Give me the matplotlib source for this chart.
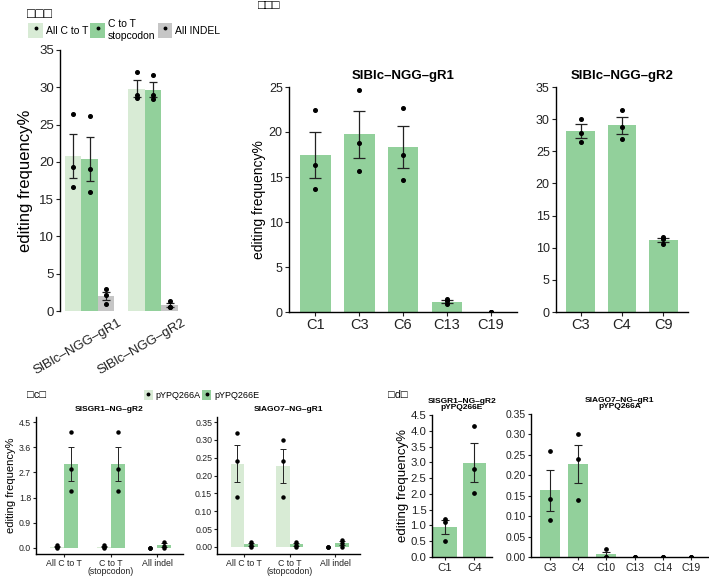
import numpy as np
import matplotlib
matplotlib.use("Agg")
import matplotlib.pyplot as plt
import matplotlib.transforms as mtransforms
from matplotlib.patches import Patch
from matplotlib.lines import Line2D
from matplotlib.legend_handler import HandlerTuple

plt.rcParams['font.family'] = ['Liberation Sans', 'DejaVu Sans']

LIGHT = '#d8ebd5'
GREEN = '#92d09b'
GREY = '#c6c6c6'

# ---- panel a: summary per guide (three replicates each)
a_groups = ['SlBlc–NGG–gR1', 'SlBlc–NGG–gR2']
a_series = ['All C to T', 'C to T\nstopcodon', 'All INDEL']
a_all_ct = [[26.4, 19.3, 16.6], [32.1, 28.9, 28.5]]
a_stop = [[26.1, 19.0, 16.0], [31.7, 28.9, 28.4]]
a_indel = [[2.9, 2.2, 0.9], [1.3, 0.6, 0.5]]

# ---- panel b: per-position editing
b1_pos = ['C1', 'C3', 'C6', 'C13', 'C19']
b1_pts = [[22.4, 16.3, 13.7], [24.7, 18.8, 15.7], [22.7, 17.5, 14.7],
          [1.4, 1.2, 0.9], [0.0, 0.0, 0.0]]
b2_pos = ['C3', 'C4', 'C9']
b2_pts = [[30.1, 27.9, 26.4], [31.5, 28.8, 26.9], [11.6, 11.4, 10.6]]

# ---- panel c: pYPQ266A vs pYPQ266E
c_cats = ['All C to T', 'C to T\n(stopcodon)', 'All indel']
c1_A = [[0.09, 0.03, 0.0], [0.09, 0.03, 0.0], [0.0, 0.0, 0.0]]
c1_E = [[4.14, 2.82, 2.04], [4.14, 2.82, 2.04], [0.22, 0.06, 0.0]]
c2_A = [[0.32, 0.24, 0.14], [0.30, 0.24, 0.14], [0.0, 0.0, 0.0]]
c2_E = [[0.015, 0.007, 0.0], [0.015, 0.007, 0.0], [0.019, 0.011, 0.0]]

# ---- panel d
d1_pos = ['C1', 'C4']
d1_pts = [[1.22, 1.10, 0.50], [4.15, 2.78, 2.04]]
d2_pos = ['C3', 'C4', 'C10', 'C13', 'C14', 'C19']
d2_pts = [[0.26, 0.141, 0.09], [0.30, 0.24, 0.14], [0.02, 0.0, 0.0],
          [0.0, 0.0, 0.0], [0.0, 0.0, 0.0], [0.0, 0.0, 0.0]]

W, H = 709, 578
fig = plt.figure(figsize=(W / 100, H / 100), dpi=100)


def ax_at(l, r, t, b):
    return fig.add_axes([l / W, 1 - b / H, (r - l) / W, (b - t) / H])


def mean_se(pts):
    pts = np.asarray(pts, dtype=float)
    m = pts.mean(axis=1)
    se = pts.std(axis=1, ddof=1) / np.sqrt(pts.shape[1])
    return m, se


def draw(ax, x, pts, color, width, cap=3.5, ms=2.6, lw=0.9):
    m, se = mean_se(pts)
    ax.bar(x, m, width=width, color=color, zorder=1)
    for xi, p, mi, si in zip(x, pts, m, se):
        ax.plot([xi] * len(p), p, 'o', color='black', ms=ms, zorder=3)
        if si > 0:
            ax.errorbar(xi, mi, yerr=si, color='#222222', capsize=cap,
                        lw=lw, capthick=lw, zorder=2)


def style(ax, fs, bottom=True):
    for s in ['top', 'right']:
        ax.spines[s].set_visible(False)
    ax.spines['bottom'].set_visible(bottom)
    ax.spines['left'].set_linewidth(1.0)
    ax.spines['bottom'].set_linewidth(1.0)
    ax.tick_params(labelsize=fs, length=3, width=0.8, pad=1.5, colors='#222222')


dot = Line2D([], [], marker='o', color='black', ms=1.8, ls='')
overlay = {tuple: HandlerTuple(ndivide=1)}

# ---------------- panel a
ax = ax_at(60, 185, 50, 311)
xg = np.arange(len(a_groups))
bw = 0.26
draw(ax, xg - bw, a_all_ct, LIGHT, bw, cap=3)
draw(ax, xg, a_stop, GREEN, bw, cap=3)
draw(ax, xg + bw, a_indel, GREY, bw, cap=3)
ax.set_xlim(-0.465, 1.5)
ax.set_ylim(0, 35)
ax.set_yticks([0, 5, 10, 15, 20, 25, 30, 35])
ax.set_xticks(xg)
ax.set_xticklabels(a_groups, rotation=30, ha='center', rotation_mode='anchor',
                   va='top')
style(ax, 9.5, bottom=False)
ax.tick_params(axis='x', length=0, pad=22)
shift = mtransforms.ScaledTranslation(-15 / 100, 0, fig.dpi_scale_trans)
for lab in ax.get_xticklabels():
    lab.set_transform(lab.get_transform() + shift)
ax.set_ylabel('editing frequency%', fontsize=12, labelpad=4)

handles = [(Patch(facecolor=c), dot) for c in (LIGHT, GREEN, GREY)]
fig.legend(handles, a_series, handler_map=overlay,
           loc='center left', bbox_to_anchor=(23 / W, 1 - 30 / H), ncol=3,
           frameon=False, fontsize=7.5, handlelength=1.4, handleheight=1.9,
           handletextpad=0.3, columnspacing=0.2, borderpad=0)

fig.text(27 / W, 1 - 14 / H, '□□□', fontsize=10, va='center', ha='left')
fig.text(258 / W, 1 - 6 / H, '□□□', fontsize=9, va='center', ha='left')

# ---------------- panel b
for (l, r), pos, pts, top, ticks, title, ylab in [
        ((289, 517), b1_pos, b1_pts, 25, [0, 5, 10, 15, 20, 25], 'SlBlc–NGG–gR1', True),
        ((556, 688), b2_pos, b2_pts, 35, [0, 5, 10, 15, 20, 25, 30, 35], 'SlBlc–NGG–gR2', False)]:
    ax = ax_at(l, r, 87, 312)
    x = np.arange(len(pos))
    draw(ax, x, pts, GREEN, 0.7, cap=4)
    ax.set_xlim(-0.6, len(pos) - 0.4)
    ax.set_ylim(0, top)
    ax.set_yticks(ticks)
    ax.set_xticks(x)
    ax.set_xticklabels(pos, fontsize=10.5)
    style(ax, 9)
    ax.tick_params(axis='x', labelsize=10.5)
    ax.set_title(title, fontsize=9.5, fontweight='bold', pad=6)
    if ylab:
        ax.set_ylabel('editing frequency%', fontsize=10, labelpad=2)

# ---------------- panel c
for (l, r), A, E, lim, ticks, fmt, title in [
        ((36, 183), c1_A, c1_E, (-0.22, 4.68), [0, 0.9, 1.8, 2.7, 3.6, 4.5], '{:.1f}', 'SlSGR1–NG–gR2'),
        ((217, 360), c2_A, c2_E, (-0.0196, 0.364), [0, 0.05, 0.1, 0.15, 0.2, 0.25, 0.3, 0.35], '{:.2f}', 'SlAGO7–NG–gR1')]:
    ax = ax_at(l, r, 417, 554)
    x = np.arange(len(c_cats))
    cw = 0.3
    draw(ax, x - cw / 2, A, LIGHT, cw, cap=2.5, ms=2.2, lw=0.7)
    draw(ax, x + cw / 2, E, GREEN, cw, cap=2.5, ms=2.2, lw=0.7)
    ax.set_xlim(-0.6, 2.55)
    ax.set_ylim(*lim)
    ax.set_yticks(ticks)
    ax.set_yticklabels([fmt.format(t) for t in ticks])
    ax.set_xticks(x)
    ax.set_xticklabels(c_cats, linespacing=0.85)
    style(ax, 6.3)
    ax.tick_params(length=2)
    ax.set_title(title, fontsize=6, fontweight='bold', pad=4)
    if l == 36:
        ax.set_ylabel('editing frequency%', fontsize=8, labelpad=2)

handles = [(Patch(facecolor=c), dot) for c in (LIGHT, GREEN)]
fig.legend(handles, ['pYPQ266A', 'pYPQ266E'], handler_map=overlay,
           loc='center left', bbox_to_anchor=(139 / W, 1 - 395 / H), ncol=2,
           frameon=False, fontsize=6.5, handlelength=1.0, handleheight=1.3,
           handletextpad=0.3, columnspacing=0.2, borderpad=0)
fig.text(27 / W, 1 - 395 / H, '□c□', fontsize=8, va='center', ha='left')
fig.text(388 / W, 1 - 395 / H, '□d□', fontsize=8, va='center', ha='left')

# ---------------- panel d
ax = ax_at(432, 492, 415, 557)
x = np.arange(len(d1_pos))
draw(ax, x, d1_pts, GREEN, 0.8, cap=3, ms=2.4, lw=0.8)
ax.set_xlim(-0.45, 1.6)
ax.set_ylim(0, 4.5)
ticks = [0, 0.5, 1.0, 1.5, 2.0, 2.5, 3.0, 3.5, 4.0, 4.5]
ax.set_yticks(ticks)
ax.set_yticklabels(['{:.1f}'.format(t) for t in ticks])
ax.set_xticks(x)
ax.set_xticklabels(d1_pos)
style(ax, 8.2)
ax.tick_params(length=2.5)
ax.set_ylabel('editing frequency%', fontsize=9.5, labelpad=1)
ax.set_title('SlSGR1–NG–gR2\npYPQ266E', fontsize=6, fontweight='bold', pad=4,
             linespacing=0.95)

ax = ax_at(531, 708, 414, 557)
x = np.arange(len(d2_pos))
draw(ax, x, d2_pts, GREEN, 0.7, cap=3, ms=2.4, lw=0.8)
ax.set_xlim(-0.67, len(d2_pos) - 0.4)
ax.set_ylim(0, 0.35)
ticks = [0, 0.05, 0.1, 0.15, 0.2, 0.25, 0.3, 0.35]
ax.set_yticks(ticks)
ax.set_yticklabels(['{:.2f}'.format(t) for t in ticks])
ax.set_xticks(x)
ax.set_xticklabels(d2_pos)
style(ax, 7.5)
ax.tick_params(length=2.5)
ax.set_title('SlAGO7–NG–gR1\npYPQ266A', fontsize=6, fontweight='bold', pad=4,
             linespacing=0.95)

fig.savefig('out.png', dpi=100)
